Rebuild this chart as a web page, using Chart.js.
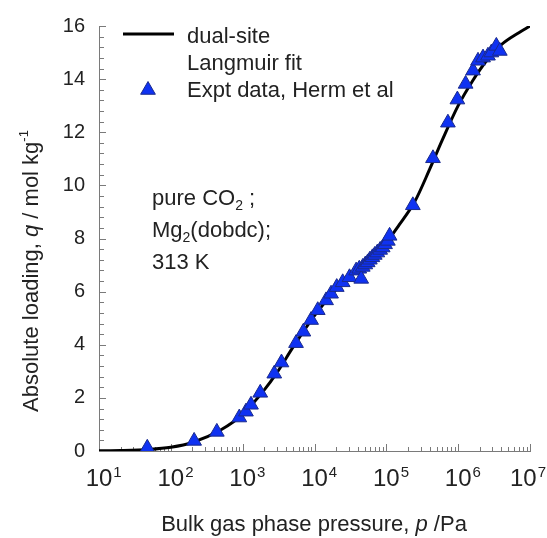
<!DOCTYPE html>
<html>
<head>
<meta charset="utf-8">
<script src="https://cdn.jsdelivr.net/npm/chart.js@4/dist/chart.umd.min.js"></script>
<style>
  html, body { margin: 0; padding: 0; background: #fff; }
  #wrap { width: 547px; height: 538px; }
</style>
</head>
<body>
<div id="wrap"><canvas id="iso"></canvas></div>
<script>
// dual-site Langmuir fit curve, pressure in Pa vs loading in mol/kg
const fitPressure = [10, 20, 50, 100, 200, 500, 1000, 2000, 3000, 5000,
  1e4, 2e4, 3e4, 5e4, 1e5, 1.5e5, 2.5e5, 4e5, 6e5, 1e6, 1.6e6, 2.5e6, 4e6, 7e6, 1e7];
const fitLoading = [0.01, 0.02, 0.06, 0.14, 0.32, 0.8, 1.38, 2.3, 2.95, 3.9,
  5.1, 6.08, 6.55, 7.05, 7.85, 8.5, 9.4, 10.6, 11.7, 13.0, 13.95, 14.7, 15.3, 15.75, 16.0];

// Herm et al. experimental isotherm
const exptPressure = [47, 211, 437, 898, 1111, 1306, 1757, 2754, 3470, 5530,
  7000, 8970, 11100, 14500, 17000, 20400, 24700, 30700, 38000, 42000,
  44700, 47000, 51000, 55000, 59000, 64000, 69000, 75000, 82000, 89000,
  96000, 105000, 111000, 234000, 446000, 720000, 975000, 1270000, 1610000, 1890000,
  2220000, 2600000, 2900000, 3400000, 3800000];
const exptLoading = [0.12, 0.38, 0.72, 1.26, 1.48, 1.74, 2.19, 2.91, 3.33, 4.06,
  4.49, 4.93, 5.30, 5.67, 5.92, 6.17, 6.35, 6.54, 6.79, 6.86,
  6.48, 6.93, 7.02, 7.10, 7.20, 7.29, 7.38, 7.47, 7.57, 7.66,
  7.78, 7.91, 8.10, 9.25, 11.02, 12.36, 13.23, 13.82, 14.32, 14.69,
  14.81, 14.88, 15.00, 15.25, 15.06];

const xDecades = [1, 2, 3, 4, 5, 6, 7];
const yTicks = [0, 2, 4, 6, 8, 10, 12, 14, 16];
const legendLine = ["dual-site", "Langmuir fit"];
const legendMarker = "Expt data, Herm et al";

const FONT = "'Liberation Sans', Arial, sans-serif";
const INK = "#222";
const AXIS = "#7a7a7a";
const MARK = "#0f32f2";
const MARK_EDGE = "#1a2a8c";

function setFont(ctx, size, italic) {
  ctx.font = (italic ? "italic " : "") + size + "px " + FONT;
}

// draw a run of text pieces (italic / sub / superscript) along the baseline
function drawRuns(ctx, parts, x, y, align) {
  let total = 0;
  parts.forEach(p => { setFont(ctx, p.s, p.i); p.w = ctx.measureText(p.t).width; total += p.w; });
  let cx = align === "center" ? x - total / 2 : x;
  ctx.textAlign = "left";
  ctx.textBaseline = "alphabetic";
  parts.forEach(p => {
    setFont(ctx, p.s, p.i);
    ctx.fillText(p.t, cx, y + (p.dy || 0));
    cx += p.w;
  });
}

function triangle(ctx, x, y, r) {
  const s = Math.sin(Math.PI * 2 / 3) * r;
  ctx.beginPath();
  ctx.moveTo(x, y - r);
  ctx.lineTo(x + s, y + r / 2);
  ctx.lineTo(x - s, y + r / 2);
  ctx.closePath();
  ctx.fillStyle = MARK;
  ctx.fill();
  ctx.lineWidth = 1;
  ctx.strokeStyle = MARK_EDGE;
  ctx.stroke();
}

const decor = {
  id: "decor",
  beforeDatasetsDraw(chart) {
    const ctx = chart.ctx;
    const xs = chart.scales.x, ys = chart.scales.y;
    const a = chart.chartArea;
    ctx.save();
    ctx.strokeStyle = AXIS;
    ctx.lineWidth = 1;
    ctx.beginPath();
    // inward ticks on the y axis, five per labelled step
    for (let i = 0; i <= 40; i++) {
      const py = Math.round(ys.getPixelForValue(i * 0.4)) + 0.5;
      const len = i % 5 === 0 ? 7 : 5;
      ctx.moveTo(a.left, py);
      ctx.lineTo(a.left + len, py);
    }
    // inward ticks on the log x axis
    xDecades.forEach(d => {
      for (let m = 1; m <= 9; m++) {
        if (d === 7 && m > 1) break;
        const px = Math.round(xs.getPixelForValue(m * Math.pow(10, d))) + 0.5;
        const len = m === 1 ? 7 : 4;
        ctx.moveTo(px, a.bottom);
        ctx.lineTo(px, a.bottom - len);
      }
    });
    ctx.stroke();
    ctx.restore();
  },
  afterDraw(chart) {
    const ctx = chart.ctx;
    const xs = chart.scales.x;
    ctx.save();
    ctx.fillStyle = INK;

    // x tick labels as 10 with a raised exponent, kept inside the canvas
    xDecades.forEach(d => {
      const px = xs.getPixelForValue(Math.pow(10, d));
      setFont(ctx, 24, false);
      const w = ctx.measureText("10").width;
      setFont(ctx, 15, false);
      const we = ctx.measureText(String(d)).width;
      let left = px - w / 2;
      const over = left + w + 1 + we - (chart.width - 1);
      if (over > 0) left -= over;
      ctx.textAlign = "left";
      ctx.textBaseline = "alphabetic";
      setFont(ctx, 24, false);
      ctx.fillText("10", left, 486);
      setFont(ctx, 15, false);
      ctx.fillText(String(d), left + w + 1, 477);
    });

    // axis titles
    drawRuns(ctx, [
      { t: "Bulk gas phase pressure, ", s: 22 },
      { t: "p", s: 22, i: true },
      { t: " /Pa", s: 22 }
    ], 314, 531, "center");

    ctx.save();
    ctx.translate(38, 271);
    ctx.rotate(-Math.PI / 2);
    drawRuns(ctx, [
      { t: "Absolute loading, ", s: 22 },
      { t: "q", s: 22, i: true },
      { t: " / mol kg", s: 22 },
      { t: "-1", s: 13, dy: -10 }
    ], 0, 0, "center");
    ctx.restore();

    // legend
    ctx.strokeStyle = "#000";
    ctx.lineWidth = 3;
    ctx.beginPath();
    ctx.moveTo(123, 34);
    ctx.lineTo(174, 34);
    ctx.stroke();
    ctx.fillStyle = INK;
    drawRuns(ctx, [{ t: legendLine[0], s: 22 }], 187, 43, "left");
    drawRuns(ctx, [{ t: legendLine[1], s: 22 }], 187, 70, "left");
    triangle(ctx, 148, 90, 8.5);
    ctx.fillStyle = INK;
    drawRuns(ctx, [{ t: legendMarker, s: 22 }], 187, 97, "left");

    // system note
    drawRuns(ctx, [
      { t: "pure CO", s: 22 }, { t: "2", s: 14, dy: 5 }, { t: " ;", s: 22 }
    ], 152, 205, "left");
    drawRuns(ctx, [
      { t: "Mg", s: 22 }, { t: "2", s: 14, dy: 5 }, { t: "(dobdc);", s: 22 }
    ], 152, 237, "left");
    drawRuns(ctx, [{ t: "313 K", s: 22 }], 152, 269, "left");
    ctx.restore();
  }
};

const fitPoints = fitPressure.map((p, i) => ({ x: p, y: fitLoading[i] }));
const exptPoints = exptPressure.map((p, i) => ({ x: p, y: exptLoading[i] }));

new Chart(document.getElementById("iso"), {
  type: "scatter",
  data: {
    datasets: [
      {
        label: "Expt data, Herm et al",
        data: exptPoints,
        pointStyle: "triangle",
        pointRadius: 8.5,
        backgroundColor: MARK,
        borderColor: MARK_EDGE,
        borderWidth: 1,
        showLine: false,
        order: 1
      },
      {
        label: "dual-site Langmuir fit",
        data: fitPoints,
        showLine: true,
        borderColor: "#000",
        borderWidth: 3,
        pointRadius: 0,
        cubicInterpolationMode: "monotone",
        order: 2
      }
    ]
  },
  options: {
    responsive: true,
    maintainAspectRatio: false,
    animation: false,
    layout: { padding: { top: 23, right: 17, left: 0, bottom: 0 } },
    plugins: { legend: { display: false }, tooltip: { enabled: false } },
    scales: {
      x: {
        type: "logarithmic",
        min: 10,
        max: 1e7,
        ticks: { display: false },
        grid: { display: false, drawTicks: false },
        border: { display: true, color: AXIS, width: 1 },
        afterFit(s) { s.height = 87; }
      },
      y: {
        min: 0,
        max: 16,
        afterBuildTicks(s) { s.ticks = yTicks.map(v => ({ value: v })); },
        ticks: { color: INK, padding: 14, font: { size: 20, family: FONT } },
        grid: { display: false, drawTicks: false },
        border: { display: true, color: AXIS, width: 1 },
        afterFit(s) { s.width = 99; }
      }
    }
  },
  plugins: [decor]
});
</script>
</body>
</html>
